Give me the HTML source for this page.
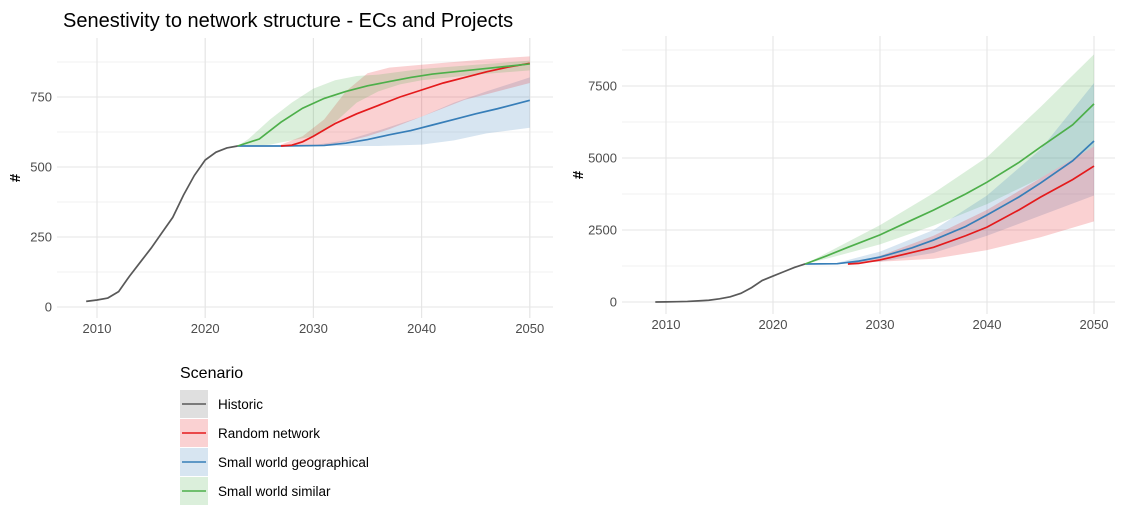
<!DOCTYPE html>
<html><head><meta charset="utf-8"><style>
body{margin:0;background:#fff;font-family:"Liberation Sans",sans-serif}
svg text{font-family:"Liberation Sans",sans-serif}
</style></head><body>
<svg id="c" width="1125" height="520" viewBox="0 0 1125 520">
<text x="63" y="27" font-size="20" fill="#000">Senestivity to network structure - ECs and Projects</text>
<g id="lp"></g>
<g id="rp"></g>
<g id="lg"></g>
</svg>
<script>
const histYears=[2009,2010,2011,2012,2013,2014,2015,2016,2017,2018,2019,2020,2021,2022,2023];
const histL=[20,25,32,55,110,160,210,265,320,400,470,525,553,568,575];
const histR=[0,5,10,20,40,60,110,180,300,500,750,900,1050,1200,1320];
// Left panel series
const gYL=[2023,2025,2027,2029,2031,2033,2035,2037,2039,2041,2043,2045,2047,2050];
const gL=[575,600,660,710,745,770,790,805,820,832,840,848,856,868];
const gBandYL=[2023,2024,2026,2028,2030,2032,2034,2036,2038,2040,2045,2050];
const gLoL=[575,575,580,595,610,660,730,770,795,810,830,845];
const gHiL=[575,600,670,730,780,810,825,830,840,850,865,880];
const rYL=[2027,2028,2029,2030,2032,2034,2036,2038,2040,2042,2044,2046,2048,2050];
const rL=[575,578,590,610,655,690,720,750,775,800,820,840,857,870];
const rBandYL=[2027,2029,2031,2033,2035,2037,2040,2042,2044,2046,2048,2050];
const rLoL=[575,575,578,590,610,635,680,710,740,760,780,800];
const rHiL=[580,610,670,770,835,855,865,872,878,885,890,895];
const bYL=[2023,2027,2031,2033,2035,2037,2039,2041,2043,2045,2047,2050];
const bL=[575,575,577,585,598,615,630,650,670,690,708,738];
const bBandYL=[2023,2030,2033,2036,2040,2043,2046,2050];
const bLoL=[575,575,575,575,580,595,620,640];
const bHiL=[575,578,595,630,680,730,770,820];
// Right panel series
const gYR=[2023,2025,2027,2030,2033,2035,2038,2040,2043,2045,2048,2050];
const gR=[1320,1600,1900,2330,2850,3190,3750,4160,4850,5380,6150,6880];
const gBandYR=[2023,2025,2030,2035,2040,2045,2050];
const gLoR=[1320,1500,2000,2650,3400,4300,5400];
const gHiR=[1320,1700,2670,3780,5030,6770,8600];
const bYR=[2023,2026,2028,2030,2033,2035,2038,2040,2043,2045,2048,2050];
const bR=[1320,1330,1420,1560,1880,2150,2620,3020,3650,4130,4900,5590];
const bBandYR=[2023,2026,2030,2035,2040,2045,2050];
const bLoR=[1320,1320,1400,1700,2300,3000,3700];
const bHiR=[1320,1360,1750,2500,3700,5300,7600];
const rYR=[2027,2028,2030,2033,2035,2038,2040,2043,2045,2048,2050];
const rR=[1320,1340,1460,1720,1900,2300,2600,3200,3640,4250,4720];
const rBandYR=[2027,2030,2035,2040,2045,2050];
const rLoR=[1320,1400,1500,1800,2250,2800];
const rHiR=[1330,1600,2300,3200,4300,5400];
const xTicks=[2010,2020,2030,2040,2050];
const yTicksL=[0,250,500,750];
const yTicksR=[0,2500,5000,7500];
const NS="http://www.w3.org/2000/svg";
function mk(p,t,a){const e=document.createElementNS(NS,t);for(const k in a)e.setAttribute(k,a[k]);p.appendChild(e);return e;}
const RED="#E41A1C",BLUE="#377EB8",GREEN="#4DAF4A",HIST="#595959";
function panel(g,o){
 const X=v=>o.x0+(v-2010)*o.px, Y=v=>o.y0-v*o.py;
 for(let yr=2005;yr<=2050;yr+=10){const x=X(yr+5);if(x>o.l&&x<o.r){const l=mk(g,'line',{x1:x,x2:x,y1:o.t,y2:o.b,stroke:'#f0f0f0','stroke-width':1});}}
 for(let i=0;i<o.yt.length;i++){const v=o.yt[i]+o.step/2;const y=Y(v);if(y>o.t){const l=mk(g,'line',{x1:o.l,x2:o.r,y1:y,y2:y,stroke:'#f0f0f0','stroke-width':1});}}
 xTicks.forEach(t=>{const x=X(t);const l=mk(g,'line',{x1:x,x2:x,y1:o.t,y2:o.b,stroke:'#e5e5e5','stroke-width':1.1});
  const tx=mk(g,'text',{x:x,y:o.b+15,'text-anchor':'middle','font-size':13,fill:'#4d4d4d'});tx.textContent=t;});
 o.yt.forEach(t=>{const y=Y(t);const l=mk(g,'line',{x1:o.l,x2:o.r,y1:y,y2:y,stroke:'#e5e5e5','stroke-width':1.1});
  const tx=mk(g,'text',{x:o.l-5,y:y+4.5,'text-anchor':'end','font-size':13,fill:'#4d4d4d'});tx.textContent=t;});
 const yl=mk(g,'text',{x:0,y:0,'font-size':15,'font-weight':'bold',fill:'#000','text-anchor':'middle',transform:`translate(${o.yl},${(o.t+o.b)/2}) rotate(-90)`});yl.textContent='#';
 o.bands.forEach(b=>{let d='';b[0].forEach((yr,i)=>{d+=(i?'L':'M')+X(yr)+','+Y(b[2][i]);});for(let i=b[0].length-1;i>=0;i--)d+='L'+X(b[0][i])+','+Y(b[1][i]);
  const p=mk(g,'path',{d:d+'Z',fill:b[3],'fill-opacity':0.2,stroke:'none'});});
 o.lines.forEach(s=>{const pts=s[0].map((yr,i)=>X(yr)+','+Y(s[1][i])).join(' ');const p=mk(g,'polyline',{points:pts,fill:'none',stroke:s[2],'stroke-width':1.7});});
}
panel(document.getElementById('lp'),{x0:97,px:10.82,y0:307,py:0.28,l:57,r:553,t:38,b:318,yt:yTicksL,step:250,yl:20,
 bands:[[bBandYL,bLoL,bHiL,BLUE,'small-world-geographical'],[rBandYL,rLoL,rHiL,RED,'random-network'],[gBandYL,gLoL,gHiL,GREEN,'small-world-similar']],
 lines:[[histYears,histL,HIST,'historic'],[bYL,bL,BLUE,'small-world-geographical'],[rYL,rL,RED,'random-network'],[gYL,gL,GREEN,'small-world-similar']]});
panel(document.getElementById('rp'),{x0:666,px:10.7,y0:302,py:72/2500,l:622,r:1115,t:36,b:314,yt:yTicksR,step:2500,yl:583,
 bands:[[gBandYR,gLoR,gHiR,GREEN,'small-world-similar'],[bBandYR,bLoR,bHiR,BLUE,'small-world-geographical'],[rBandYR,rLoR,rHiR,RED,'random-network']],
 lines:[[histYears,histR,HIST,'historic'],[bYR,bR,BLUE,'small-world-geographical'],[rYR,rR,RED,'random-network'],[gYR,gR,GREEN,'small-world-similar']]});
const lg=document.getElementById('lg');
const t=mk(lg,'text',{x:180,y:378,'font-size':16,fill:'#000'});t.textContent='Scenario';
const legNames=['Historic','Random network','Small world geographical','Small world similar'];
const legCols=[HIST,RED,BLUE,GREEN];
legNames.forEach((n,i)=>{const cy=404+i*29;const gg=mk(lg,'g',{});
 mk(gg,'rect',{x:180,y:cy-14,width:28,height:28,fill:i?legCols[i]:'#bfbfbf','fill-opacity':i?0.2:0.5});
 mk(gg,'line',{x1:182,x2:206,y1:cy,y2:cy,stroke:legCols[i],'stroke-width':1.6});
 const tx=mk(gg,'text',{x:218,y:cy+5,'font-size':13.5,fill:'#000'});tx.textContent=n;});
</script>
</body></html>
